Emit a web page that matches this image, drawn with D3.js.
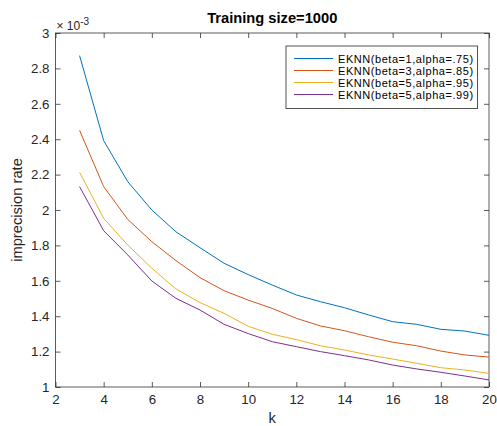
<!DOCTYPE html>
<html>
<head>
<meta charset="utf-8">
<script src="https://cdn.jsdelivr.net/npm/d3@7"></script>
<style>
body{margin:0;background:#fff;}
text{font-family:"Liberation Sans",Arial,Helvetica,sans-serif;}
</style>
</head>
<body>
<svg id="c" width="497" height="426"></svg>
<script>
const ks = [3,4,5,6,7,8,9,10,11,12,13,14,15,16,17,18,19,20];
const blue   = [2.872,2.392,2.160,2.000,1.877,1.787,1.699,1.635,1.576,1.520,1.482,1.448,1.407,1.369,1.354,1.326,1.316,1.292];
const red    = [2.450,2.132,1.947,1.821,1.714,1.618,1.544,1.491,1.444,1.388,1.345,1.318,1.284,1.253,1.233,1.203,1.181,1.169];
const yellow = [2.213,1.953,1.802,1.671,1.554,1.477,1.416,1.343,1.298,1.268,1.233,1.209,1.181,1.158,1.134,1.109,1.096,1.077];
const purple = [2.132,1.883,1.746,1.599,1.501,1.435,1.354,1.302,1.256,1.228,1.200,1.177,1.153,1.124,1.102,1.083,1.062,1.040];
const seriesNames = ["EKNN(beta=1,alpha=.75)","EKNN(beta=3,alpha=.85)","EKNN(beta=5,alpha=.95)","EKNN(beta=5,alpha=.99)"];
const xTicks = [2,4,6,8,10,12,14,16,18,20];
const yTicks = [1,1.2,1.4,1.6,1.8,2,2.2,2.4,2.6,2.8,3];
const colors = ["#0072BD","#D95319","#EDB120","#7E2F8E"];
const allSeries = [blue, red, yellow, purple];

const svg = d3.select("#c");
const L=55.5, R=489, T=33, B=387;
const x = d3.scaleLinear().domain([2,20]).range([L,R]);
const y = d3.scaleLinear().domain([1,3]).range([B,T]);
const axisCol = "#262626";
const tl = 5;

svg.append("rect").attr("x",L).attr("y",T).attr("width",R-L).attr("height",B-T)
  .attr("fill","none").attr("stroke",axisCol).attr("stroke-width",1).attr("stroke-opacity",0.75);

const gx = svg.append("g").attr("transform",`translate(0,${B})`)
  .call(d3.axisBottom(x).tickValues(xTicks).tickSize(-tl).tickPadding(8).tickFormat(d3.format("d")));
const gxt = svg.append("g").attr("transform",`translate(0,${T})`)
  .call(d3.axisTop(x).tickValues(xTicks).tickSize(-tl).tickFormat(""));
const gy = svg.append("g").attr("transform",`translate(${L},0)`)
  .call(d3.axisLeft(y).tickValues(yTicks).tickSize(-tl).tickPadding(6).tickFormat(d=>d3.format("")(+d.toFixed(1))));
const gyr = svg.append("g").attr("transform",`translate(${R},0)`)
  .call(d3.axisRight(y).tickValues(yTicks).tickSize(-tl).tickFormat(""));
[gx,gxt,gy,gyr].forEach(g=>{
  g.select(".domain").remove();
  g.selectAll(".tick line").attr("stroke",axisCol).attr("stroke-opacity",0.75);
  g.selectAll(".tick text").attr("fill",axisCol).style("font-size","13.3px");
});

const line = d3.line().x((d,i)=>x(ks[i])).y(d=>y(d));
allSeries.forEach((s,i)=>{
  svg.append("path").datum(s).attr("d",line).attr("fill","none")
    .attr("stroke",colors[i]).attr("stroke-width",1);
});

svg.append("text").attr("x",(L+R)/2).attr("y",23).attr("text-anchor","middle")
  .style("font-size","14.7px").style("font-weight","bold").attr("fill","#000").text("Training size=1000");
const ex = svg.append("text").attr("x",L+1).attr("y",30).attr("fill",axisCol).style("font-size","12px");
ex.append("tspan").text("\u00D7 10");
ex.append("tspan").attr("dy",-5).style("font-size","10px").text("-3");

svg.append("text").attr("x",(L+R)/2).attr("y",423).attr("text-anchor","middle")
  .style("font-size","14.7px").attr("fill",axisCol).text("k");
svg.append("text").attr("transform",`translate(22,${(T+B)/2}) rotate(-90)`).attr("text-anchor","middle")
  .style("font-size","14.7px").attr("fill",axisCol).text("imprecision rate");

const lg = svg.append("g");
lg.append("rect").attr("x",286).attr("y",46).attr("width",191.5).attr("height",62.5)
  .attr("fill","#fff").attr("stroke",axisCol).attr("stroke-opacity",0.8).attr("stroke-width",1);
seriesNames.forEach((n,i)=>{
  const yy = 58.5 + i*12;
  lg.append("line").attr("x1",294).attr("x2",333).attr("y1",yy).attr("y2",yy)
    .attr("stroke",colors[i]).attr("stroke-width",1);
  lg.append("text").attr("x",338).attr("y",yy+4).style("font-size","11px")
    .style("letter-spacing","0.55px").attr("fill","#000").text(n);
});
</script>
</body>
</html>
